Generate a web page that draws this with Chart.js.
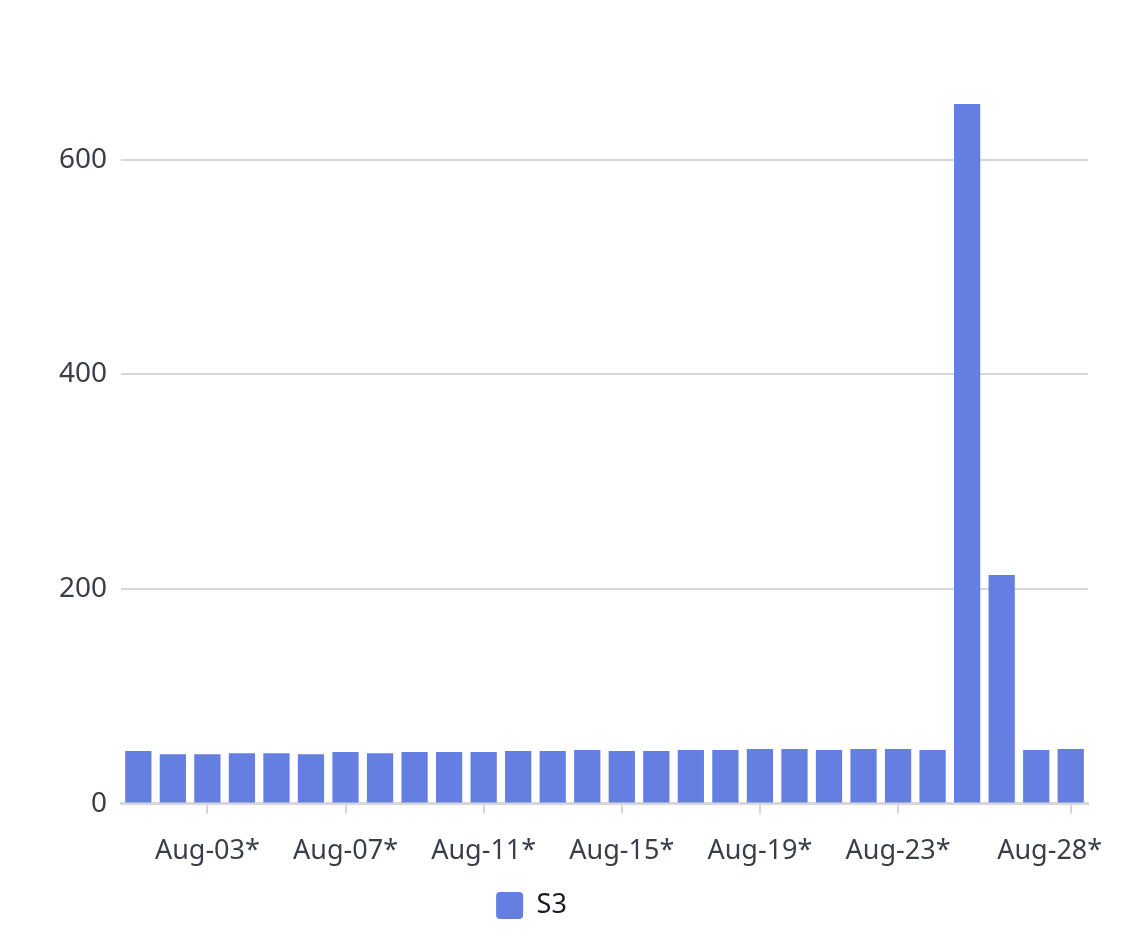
<!DOCTYPE html>
<html>
<head>
<meta charset="utf-8">
<script src="https://cdn.jsdelivr.net/npm/chart.js@4.4.1/dist/chart.umd.min.js"></script>
<style>
  html, body { margin: 0; padding: 0; background: #fff; }
  #wrap { width: 1134px; height: 936px; }
</style>
</head>
<body>
<div id="wrap"><canvas id="chart"></canvas></div>
<script>
const days = [
    'Aug-01*', 'Aug-02*', 'Aug-03*', 'Aug-04*', 'Aug-05*', 'Aug-06*', 'Aug-07*',
    'Aug-08*', 'Aug-09*', 'Aug-10*', 'Aug-11*', 'Aug-12*', 'Aug-13*', 'Aug-14*',
    'Aug-15*', 'Aug-16*', 'Aug-17*', 'Aug-18*', 'Aug-19*', 'Aug-20*', 'Aug-21*',
    'Aug-22*', 'Aug-23*', 'Aug-24*', 'Aug-25*', 'Aug-26*', 'Aug-27*', 'Aug-28*'
];
const s3Values = [
    49, 46, 46, 47, 47, 46, 48, 47, 48, 48, 48, 49, 49, 50,
    49, 49, 50, 50, 51, 51, 50, 51, 51, 50, 652, 213, 50, 51
];
const shownDays = ['Aug-03*', 'Aug-07*', 'Aug-11*', 'Aug-15*', 'Aug-19*', 'Aug-23*', 'Aug-28*'];
const yTicks = [0, 200, 400, 600];

const textColor = '#3a3e47';
const gridColor = '#d7d7db';
const barColor = '#657ee1';
const fontFamily = '"Noto Sans"';

// legend sits a bit left of centre in the original
const legendNudge = {
    id: 'legendNudge',
    afterLayout(chart) {
        chart.legend.left -= 35;
        chart.legend.right -= 35;
    }
};

new Chart(document.getElementById('chart').getContext('2d'), {
    type: 'bar',
    data: {
        labels: days,
        datasets: [{
            label: 'S3',
            data: s3Values,
            backgroundColor: barColor,
            borderWidth: 0,
            barPercentage: 0.76,
            categoryPercentage: 1.0
        }]
    },
    options: {
        responsive: true,
        maintainAspectRatio: false,
        animation: false,
        layout: {
            padding: {top: 104, left: 45, right: 46, bottom: 7}
        },
        scales: {
            x: {
                ticks: {
                    autoSkip: false,
                    maxRotation: 0,
                    color: textColor,
                    font: {family: fontFamily, size: 27},
                    padding: 22,
                    // the last label is pulled in so it ends near the plot edge
                    callback: function (value, index, ticks) {
                        const text = this.getLabelForValue(value);
                        return index === ticks.length - 1 ? text + '      ' : text;
                    }
                },
                afterBuildTicks: (scale) => {
                    scale.ticks = scale.ticks.filter(t => shownDays.includes(days[t.value]));
                },
                afterFit: (scale) => {
                    scale.paddingLeft = 0;
                    scale.paddingRight = 0;
                },
                grid: {
                    offset: false,
                    drawOnChartArea: false,
                    drawTicks: true,
                    tickLength: 10,
                    color: gridColor,
                    lineWidth: 2
                },
                border: {display: true, color: gridColor, width: 3}
            },
            y: {
                min: 0,
                max: Math.max(...s3Values),
                afterBuildTicks: (scale) => {
                    scale.ticks = yTicks.map(v => ({value: v}));
                },
                ticks: {
                    color: textColor,
                    font: {family: fontFamily, size: 28},
                    padding: 14
                },
                grid: {
                    color: gridColor,
                    lineWidth: 2,
                    drawTicks: false
                },
                border: {display: false}
            }
        },
        plugins: {
            legend: {
                position: 'bottom',
                labels: {
                    color: '#16191f',
                    font: {family: fontFamily, size: 27},
                    boxWidth: 27,
                    boxHeight: 27,
                    useBorderRadius: true,
                    borderRadius: 4,
                    padding: 2
                }
            },
            tooltip: {enabled: false}
        }
    },
    plugins: [legendNudge]
});
</script>
</body>
</html>
